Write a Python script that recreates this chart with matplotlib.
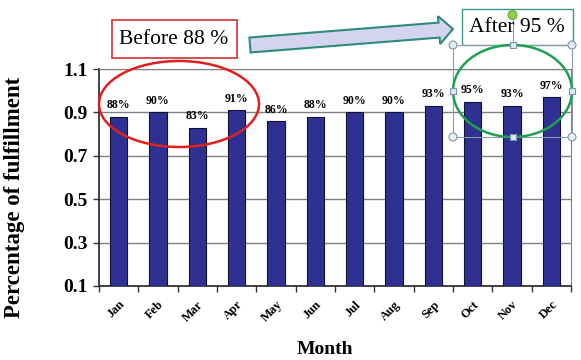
import matplotlib
matplotlib.use("Agg")
import matplotlib.pyplot as plt
from matplotlib.patches import Ellipse, Rectangle, FancyArrow, Circle
from matplotlib.lines import Line2D
from matplotlib.transforms import Affine2D

months = ["Jan", "Feb", "Mar", "Apr", "May", "Jun", "Jul", "Aug", "Sep", "Oct", "Nov", "Dec"]
fulfillment = [0.88, 0.90, 0.83, 0.91, 0.86, 0.88, 0.90, 0.90, 0.93, 0.95, 0.93, 0.97]
bar_labels = ["88%", "90%", "83%", "91%", "86%", "88%", "90%", "90%", "93%", "95%", "93%", "97%"]
yticks = [0.1, 0.3, 0.5, 0.7, 0.9, 1.1]
before_text = "Before 88 %"
after_text = "After 95 %"

W, H = 581, 360
serif = ["Liberation Serif", "DejaVu Serif"]
plt.rcParams["font.family"] = serif

fig = plt.figure(figsize=(W / 100, H / 100), dpi=100)
ax = fig.add_axes([99 / W, (H - 286) / H, 472 / W, 217 / H])

x = list(range(len(months)))
base = yticks[0]
bars = ax.bar(x, [v - base for v in fulfillment], width=0.44, bottom=base,
              color="#2E3192", edgecolor="#101030", linewidth=0.8, zorder=3)

ax.set_xlim(-0.5, len(months) - 0.5)
ax.set_ylim(yticks[0], yticks[-1])
ax.set_yticks(yticks)
ax.set_yticklabels([f"{t:.1f}" for t in yticks], fontsize=14, fontweight="bold")
ax.set_xticks(x)
ax.set_xticklabels(months, rotation=45, fontsize=9, fontweight="bold",
                   ha="right", va="top", rotation_mode="anchor")
ax.tick_params(axis="x", which="major", length=0, pad=9)
ax.set_xticks([i - 0.5 for i in range(len(months) + 1)], minor=True)
ax.tick_params(axis="x", which="minor", length=4, width=1, color="#333333", direction="out")
ax.tick_params(axis="y", length=4, width=1, color="#333333", pad=4)

ax.yaxis.grid(True, color="#808080", linewidth=1, zorder=0)
ax.set_axisbelow(True)
for s in ["top", "right"]:
    ax.spines[s].set_color("#808080")
for s in ["left", "bottom"]:
    ax.spines[s].set_color("#222222")
    ax.spines[s].set_linewidth(1.2)

for xi, v, lab in zip(x, fulfillment, bar_labels):
    ax.annotate(lab, (xi, v), xytext=(0, 4), textcoords="offset points",
                ha="center", va="bottom", fontsize=8.5, fontweight="bold", zorder=4)

ax.set_ylabel("Percentage of fulfillment", fontsize=16.5, fontweight="bold")
ax.yaxis.set_label_coords(-(99 - 25) / 472, (286 - 197) / 217)
ax.set_xlabel("Month", fontsize=14, fontweight="bold")
ax.xaxis.label.set_va("center")
ax.xaxis.set_label_coords((325 - 99) / 472, -(349 - 286) / 217)

# pixel coordinate transform (origin top-left)
px = Affine2D().scale(1 / W, -1 / H).translate(0, 1) + fig.transFigure

def add(p):
    p.set_transform(px)
    p.set_clip_on(False)
    fig.add_artist(p)

# Before box
add(Rectangle((112, 20), 125, 38, facecolor="white", edgecolor="#D03030", linewidth=1.2))
fig.text(174 / W, 1 - 39 / H, before_text, fontsize=15.5, ha="center", va="center")
# red ellipse
add(Ellipse((179, 104), 160, 86, facecolor="none", edgecolor="#E02020", linewidth=1.8, zorder=5))

# arrow
add(FancyArrow(250, 45, 203, -16, width=15, head_width=28, head_length=14,
               length_includes_head=True, facecolor="#D4D4F0", edgecolor="#2E8B7A", linewidth=1.5))

# After box
add(Rectangle((462, 9), 111, 36, facecolor="white", edgecolor="#3A9A8A", linewidth=1.0))
fig.text(517 / W, 1 - 28 / H, after_text, fontsize=15.5, ha="center", va="center")

# selection frame around green ellipse
x0, x1, y0, y1 = 453, 572, 45, 137
xm, ym = (x0 + x1) / 2, (y0 + y1) / 2
add(Rectangle((x0, y0), x1 - x0, y1 - y0, facecolor="none", edgecolor="#8C9CAC", linewidth=0.8, zorder=6))
add(Ellipse((xm, ym), x1 - x0, y1 - y0, facecolor="none", edgecolor="#20A050", linewidth=1.8, zorder=6))
ln = Line2D([xm, xm], [15, y0], color="#8C9CAC", linewidth=0.8)
ln.set_transform(px)
fig.add_artist(ln)
for cx, cy in [(x0, y0), (x1, y0), (x0, y1), (x1, y1)]:
    add(Circle((cx, cy), 4, facecolor="#E4ECF4", edgecolor="#7F96AA", linewidth=0.8, zorder=7))
for cx, cy in [(xm, y0), (xm, y1), (x0, ym), (x1, ym)]:
    add(Rectangle((cx - 3, cy - 3), 6, 6, facecolor="#DCE8F6", edgecolor="#7F96AA", linewidth=0.8, zorder=7))
add(Circle((xm, 15), 4.5, facecolor="#8FD04A", edgecolor="#70A840", linewidth=0.8, zorder=7))

fig.savefig("out.png", dpi=100, facecolor="white")
